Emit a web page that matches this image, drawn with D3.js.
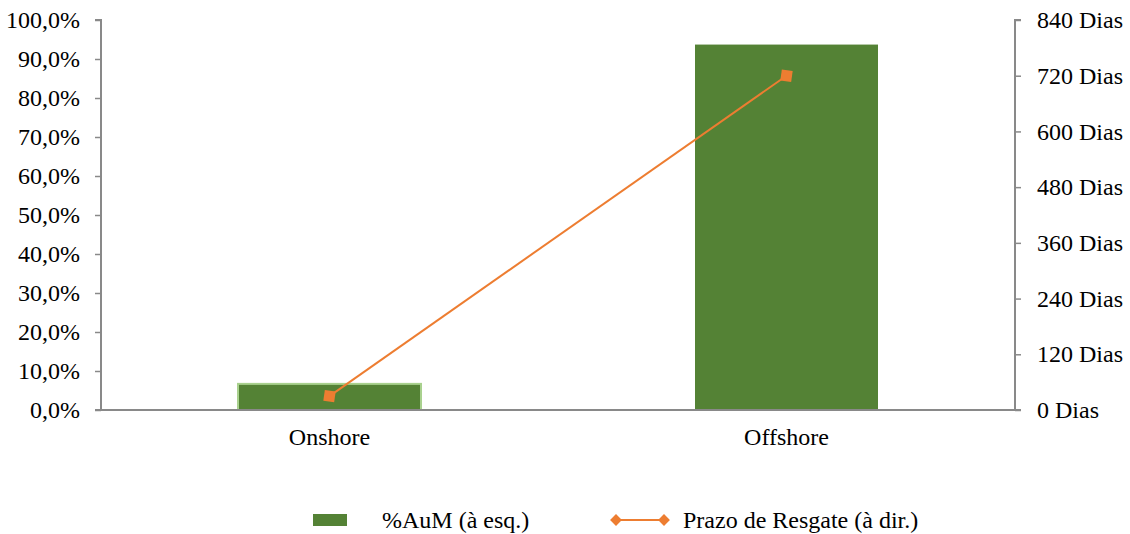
<!DOCTYPE html>
<html><head><meta charset="utf-8">
<script src="https://cdn.jsdelivr.net/npm/d3@7"></script>
<style>body{margin:0;background:#fff}svg{display:block}</style>
</head><body>
<svg id="c" width="1130" height="534"></svg>
<script>
const categories = ["Onshore", "Offshore"];
const aumPct = [6.7, 93.7];
const prazoDias = [30, 720];
const leftTicks = [0,10,20,30,40,50,60,70,80,90,100];
const rightTicks = [0,120,240,360,480,600,720,840];
const seriesNames = ["%AuM (à esq.)", "Prazo de Resgate (à dir.)"];

const svg = d3.select("#c");
const FONT = "'Liberation Serif', 'Times New Roman', Times, serif";
const m = {l:101, r:1015, t:20, b:410};
const xc = d3.scaleBand().domain(categories).range([m.l, m.r]);
const yL = d3.scaleLinear().domain([0,100]).range([m.b, m.t]);
const yR = d3.scaleLinear().domain([0,840]).range([m.b, m.t]);
const axisCol = "#898989";
const fs = "24px";

// bars
const bw = 183;
svg.selectAll("rect.bar").data(categories).enter().append("rect")
  .attr("x", d => xc(d) + xc.bandwidth()/2 - bw/2)
  .attr("width", bw)
  .attr("y", (d,i) => yL(aumPct[i]))
  .attr("height", (d,i) => m.b - yL(aumPct[i]))
  .attr("fill", "#548235")
  .attr("stroke", (d,i) => i===0 ? "#A9D18E" : "none")
  .attr("stroke-width", 2);

// left axis
const gL = svg.append("g").attr("transform", `translate(${m.l},0)`)
  .call(d3.axisLeft(yL).tickValues(leftTicks).tickSize(6).tickPadding(15)
    .tickFormat(d => d3.format(".1f")(d).replace(".", ",") + "%"));
// right axis
const gR = svg.append("g").attr("transform", `translate(${m.r},0)`)
  .call(d3.axisRight(yR).tickValues(rightTicks).tickSize(6).tickPadding(16)
    .tickFormat(d => d + " Dias"));
// bottom axis
const gB = svg.append("g").attr("transform", `translate(0,${m.b})`)
  .call(d3.axisBottom(xc).tickSize(0).tickPadding(18));
[gL,gR,gB].forEach(g => {
  g.attr("font-size", fs).attr("font-family", FONT);
  g.selectAll("path.domain").attr("stroke", axisCol).attr("stroke-width", 2);
  g.selectAll(".tick line").attr("stroke", axisCol).attr("stroke-width", 1.5);
  g.selectAll("text").style("font-size", fs).style("font-family", FONT).attr("fill", "#000");
});
gL.select("path.domain").attr("d", `M-6,${m.t}H0V${m.b}H-6`);
gR.select("path.domain").attr("d", `M6,${m.t}H0V${m.b}H6`);
gB.select("path.domain").attr("d", `M${m.l},0H${m.r}`);

// line
const orange = "#ED7D31";
const pts = categories.map((c,i) => [xc(c) + xc.bandwidth()/2, yR(prazoDias[i])]);
svg.append("path").attr("d", d3.line()(pts)).attr("fill","none").attr("stroke", orange).attr("stroke-width", 2);
svg.selectAll("path.mk").data(pts).enter().append("path")
  .attr("transform", d => `translate(${d[0]},${d[1]}) rotate(8)`)
  .attr("d", d3.symbol(d3.symbolSquare, 120)())
  .attr("fill", orange);

// legend
const ly = 520;
svg.append("rect").attr("x", 313).attr("y", ly-6).attr("width", 34).attr("height", 12).attr("fill", "#548235");
svg.append("text").attr("x", 382).attr("y", ly).attr("dy", "0.33em")
  .style("font-size", fs).style("font-family", FONT).attr("fill", "#000").text(seriesNames[0]);
svg.append("line").attr("x1", 616).attr("x2", 664).attr("y1", ly).attr("y2", ly).attr("stroke", orange).attr("stroke-width", 2);
[616, 664].forEach(px => svg.append("path").attr("transform", `translate(${px},${ly}) rotate(45)`)
  .attr("d", d3.symbol(d3.symbolSquare, 70)()).attr("fill", orange));
svg.append("text").attr("x", 683).attr("y", ly).attr("dy", "0.33em")
  .style("font-size", fs).style("font-family", FONT).attr("fill", "#000").text(seriesNames[1]);
</script>
</body></html>
